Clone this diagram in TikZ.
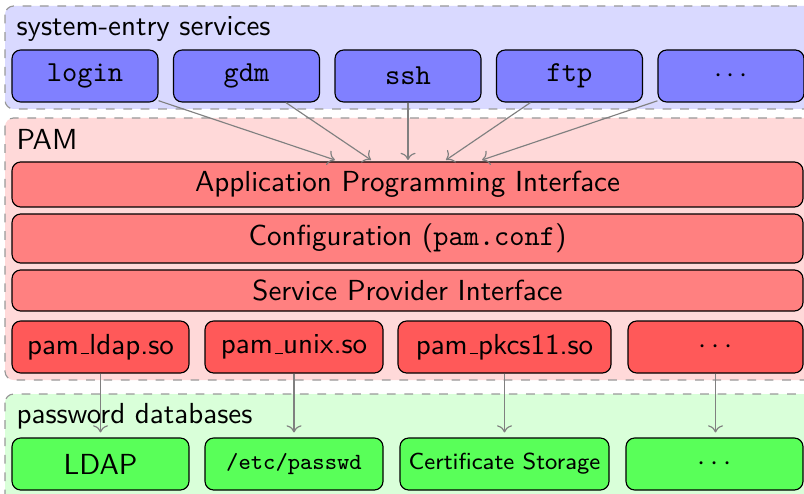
\documentclass[tikz,border=0pt]{standalone}
\usetikzlibrary{arrows.meta}
% thin low rule for the underscore in module names
\newcommand\pamus{\leavevmode\kern.06em\vbox{\hrule width.3em}}
\begin{document}
\begin{tikzpicture}[x=0.344828pt, y=-0.344828pt,
  font=\sffamily,
  layer/.style={draw=black!40, dashed, rounded corners=3pt},
  title/.style={anchor=base west, inner sep=0pt},
  box/.style={draw=black, rounded corners=3pt, inner sep=0pt, minimum height=17.93pt},
  svc/.style={box, fill=blue!50, minimum width=50.34pt, font=\ttfamily},
  iface/.style={box, fill=red!50, minimum width=272.76pt},
  mod/.style={box, fill=red!65},
  db/.style={box, fill=green!65},
  arr/.style={draw=gray, ->},
]
\useasboundingbox (0,0) rectangle (804,494);

% background layers
\draw[layer, fill=blue!15]  (5,6)   rectangle (830,109);
\draw[layer, fill=red!15]   (5,118) rectangle (830,380);
\draw[layer, fill=green!15] (5,394) rectangle (830,540);

\node[title] (tsvc) at (16,36)  {system-entry services};
\node[title] (tpam) at (16,150) {PAM};
\node[title] (tdb)  at (16,423) {password databases};

% system-entry services
\node[svc] (login)   at (85,76)    {login};
\node[svc] (gdm)     at (246.5,76) {gdm};
\node[svc] (ssh)     at (408,76)   {ssh};
\node[svc] (ftp)     at (569.5,76) {ftp};
\node[svc] (svcmore) at (731,76)   {$\cdots$};

% PAM layers
\node[iface, minimum height=15.52pt] (api)  at (407.5,184.5) {Application Programming Interface};
\node[iface, minimum height=16.90pt] (conf) at (407.5,238.5) {Configuration (\texttt{pam.conf})};
\node[iface, minimum height=14.14pt] (spi)  at (407.5,290.5) {Service Provider Interface};

% PAM modules
\node[mod, minimum width=61.03pt] (mldap) at (100.5,347) {pam\pamus ldap.so};
\node[mod, minimum width=61.38pt] (munix) at (294,347)   {pam\pamus unix.so};
\node[mod, minimum width=73.45pt] (mpkcs) at (504.5,347) {pam\pamus pkcs11.so};
\node[mod, minimum width=60.34pt] (mmore) at (715.5,347) {$\cdots$};

% password databases
\node[db, minimum width=61.03pt] (dldap)   at (100.5,464) {LDAP};
\node[db, minimum width=61.38pt, font=\footnotesize\ttfamily] (dpasswd) at (294,464) {/etc/passwd};
\node[db, minimum width=72.07pt, font=\sffamily\footnotesize] (dcert) at (504.5,464) {Certificate Storage};
\node[db, minimum width=61.03pt] (dmore)   at (714.5,464) {$\cdots$};

% entry points on the API
\coordinate (in1) at (335,160);
\coordinate (in2) at (371,160);
\coordinate (in3) at (408,160);
\coordinate (in4) at (446,160);
\coordinate (in5) at (482,160);

\draw[arr] (login)   -- (in1);
\draw[arr] (gdm)     -- (in2);
\draw[arr] (ssh)     -- (in3);
\draw[arr] (ftp)     -- (in4);
\draw[arr] (svcmore) -- (in5);

\draw[arr, shorten >=1.7pt] (mldap) -- (mldap |- dldap.north);
\draw[arr, shorten >=1.7pt] (munix) -- (munix |- dpasswd.north);
\draw[arr, shorten >=1.7pt] (mpkcs) -- (mpkcs |- dcert.north);
\draw[arr, shorten >=1.7pt] (mmore) -- (mmore |- dmore.north);
\end{tikzpicture}
\end{document}
